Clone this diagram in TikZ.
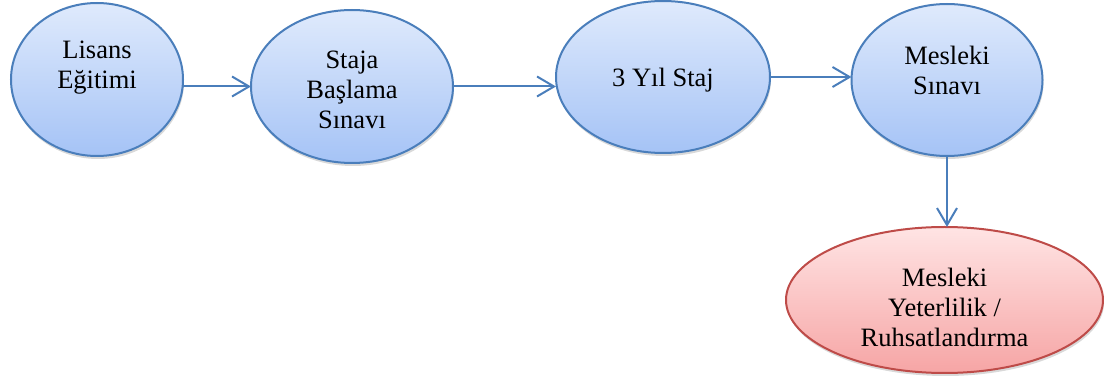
\documentclass[tikz,border=0pt]{standalone}
\usepackage{fontspec}
\setmainfont{Liberation Serif}
\usetikzlibrary{shapes.geometric,arrows.meta,shadows}
\definecolor{bline}{HTML}{4A7EBB}
\definecolor{btop}{HTML}{DFEAFC}
\definecolor{bbot}{HTML}{A5C3F6}
\definecolor{rline}{HTML}{BE4B48}
\definecolor{rtop}{HTML}{FFE4E4}
\definecolor{rbot}{HTML}{F6A5A5}
\tikzset{
  oval/.style={ellipse, draw=bline, line width=2pt, inner sep=0pt, outer sep=0pt,
    top color=btop, bottom color=bbot,
    drop shadow={opacity=0.3, shadow xshift=1pt, shadow yshift=-3pt}},
  redoval/.style={oval, draw=rline, top color=rtop, bottom color=rbot},
  lbl/.style={align=center, inner sep=0pt, font=\fontsize{26.5}{30}\selectfont},
  arr/.style={draw=bline, line width=2pt, -{Straight Barb[length=17pt,width=20pt,line width=2pt]}}
}
\begin{document}
\begin{tikzpicture}[x=1pt,y=-1pt]
\useasboundingbox (0,0) rectangle (1104,387);
\node[oval, minimum width=172pt, minimum height=153pt] (e1) at (97,79.5) {};
\node[oval, minimum width=202pt, minimum height=153pt] (e2) at (352,86.5) {};
\node[oval, minimum width=214pt, minimum height=152pt] (e3) at (663,77) {};
\node[oval, minimum width=191pt, minimum height=152pt] (e4) at (947,80) {};
\node[redoval, minimum width=317pt, minimum height=146pt] (e5) at (944.5,300) {};
\node[lbl] (t1) at (97,68) {Lisans\\Eğitimi};
\node[lbl] (t2) at (352,90) {Staja\\Başlama\\Sınavı};
\node[lbl] (t3) at (663,80) {3 Yıl Staj};
\node[lbl] (t4) at (947,70.5) {Mesleki\\Sınavı};
\node[lbl] (t5) at (944.5,307) {Mesleki\\Yeterlilik /\\Ruhsatlandırma};
\draw[arr] (e1.east |- e2.west) -- (e2.west);
\draw[arr] (e2.east) -- (e2.east -| e3.west);
\draw[arr] (e3.east) -- (e3.east -| e4.west);
\draw[arr] (e4.south) -- (e4.south |- e5.north);
\end{tikzpicture}
\end{document}
